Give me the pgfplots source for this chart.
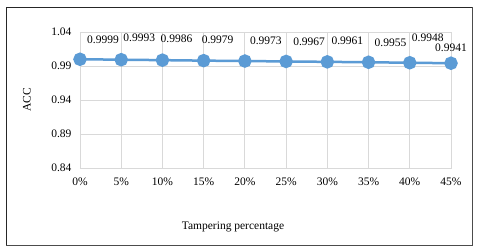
\documentclass[border=0pt]{standalone}
\usepackage{fontspec}
\setmainfont{Liberation Serif}
\usepackage{pgfplots}
\usepackage{pgfplotstable}
\pgfplotsset{compat=1.18}
\definecolor{lineblue}{HTML}{5B9BD5}
\definecolor{gridgray}{HTML}{D9D9D9}
\pgfplotstableread{
x y dx dy
0 0.9999 23 19.3
1 0.9993 18 21.7
2 0.9986 14 21.0
3 0.9979 14 20.6
4 0.9973 21 20.0
5 0.9967 23 19.4
6 0.9961 20 21.0
7 0.9955 22 19.3
8 0.9948 18 24.7
9 0.9941 0 15.0
}\datatable
\begin{document}
\begin{tikzpicture}
\path[use as bounding box] (0pt,0pt) rectangle (480pt,250pt);
\fill[white] (0pt,0pt) rectangle (480pt,250pt);
\draw[black!85, line width=0.9pt] (6pt,5pt) rectangle (472pt,243pt);
\draw[black!70, line width=0.9pt] (472.7pt,5pt) -- (472.7pt,243pt);
\draw[black!70, line width=0.9pt] (6pt,4.3pt) -- (472.7pt,4.3pt);
\begin{axis}[
  at={(80pt,82pt)}, anchor=south west,
  scale only axis, width=371pt, height=136pt,
  xmin=0, xmax=9, ymin=0.84, ymax=1.04,
  xtick={0,...,9},
  xticklabels={0\%,5\%,10\%,15\%,20\%,25\%,30\%,35\%,40\%,45\%},
  ytick={0.84,0.89,0.94,0.99,1.04},
  yticklabel style={/pgf/number format/fixed,/pgf/number format/precision=2,/pgf/number format/fixed zerofill},
  /pgf/number format/assume math mode=true,
  tick style={draw=none},
  grid=major,
  major grid style={gridgray, line width=0.8pt},
  axis line style={gridgray, line width=0.8pt},
  tick label style={font=\fontsize{11.5}{13}\selectfont},
  xticklabel style={yshift=-6.5pt},
  yticklabel style={xshift=-5pt},
  label style={font=\fontsize{11.5}{13}\selectfont},
  xlabel={Tampering percentage},
  xlabel style={at={(axis description cs:0.4124,-0.4338)}, anchor=center},
  ylabel={ACC},
  ylabel style={at={(axis description cs:-0.1429,0.5)}, anchor=center},
  clip=false,
]
\addplot[lineblue, line width=2.5pt, mark=*, mark size=5.5pt,
  mark options={fill=lineblue, draw=none},
  visualization depends on={\thisrow{dx}\as\dx},
  visualization depends on={\thisrow{dy}\as\dy},
  nodes near coords={\pgfmathprintnumber[fixed,precision=4,zerofill]{\pgfplotspointmeta}},
  every node near coord/.append style={anchor=center, xshift=\dx pt, yshift=\dy pt, text=black, font=\fontsize{11.5}{13}\selectfont, /pgf/number format/assume math mode=true},
] table[x=x,y=y] {\datatable};
\end{axis}
\end{tikzpicture}
\end{document}
